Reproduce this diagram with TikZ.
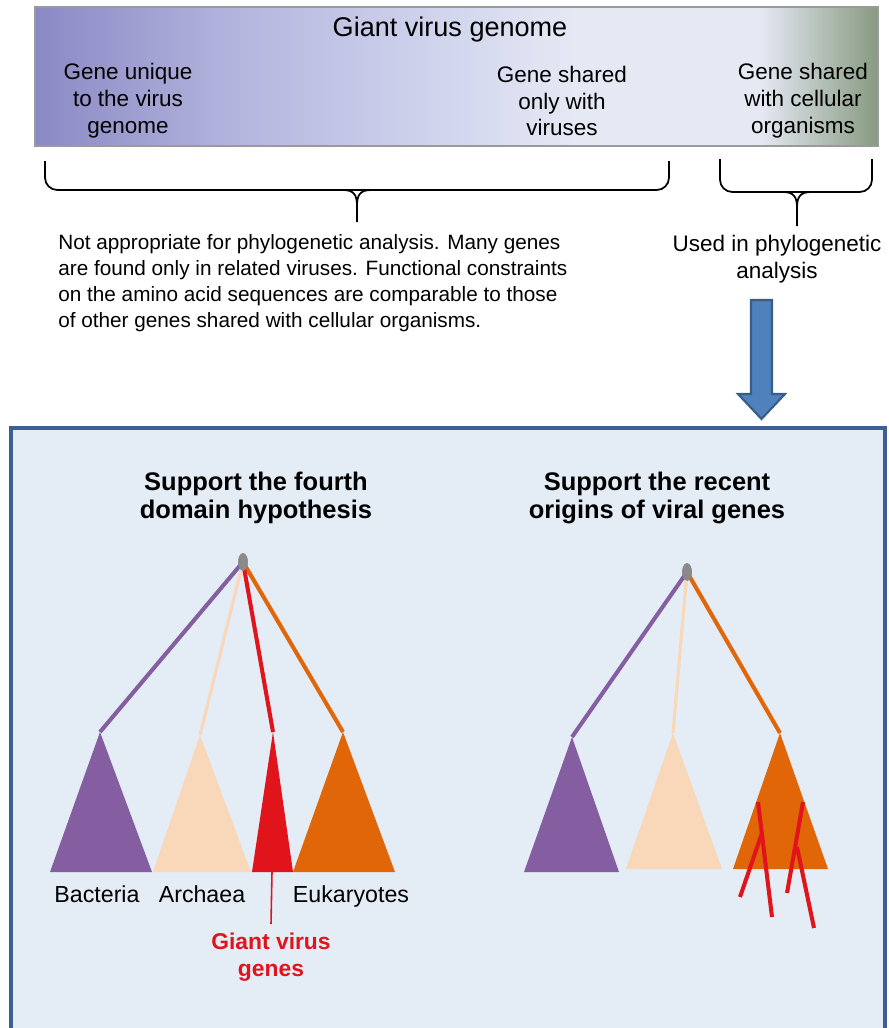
\documentclass[tikz,border=0pt]{standalone}
\usepackage{fontspec}
\setmainfont{Liberation Sans}
\usepackage{tikz}
\usetikzlibrary{positioning}
\usetikzlibrary{shapes.geometric}

\definecolor{gA}{HTML}{8B89C5}
\definecolor{gB}{HTML}{B4B5DE}
\definecolor{gC}{HTML}{D3D7EE}
\definecolor{gE}{HTML}{E5E9F4}
\definecolor{gD}{HTML}{879A80}
\definecolor{boxgray}{HTML}{9A9A9A}
\definecolor{panelfill}{HTML}{E4ECF6}
\definecolor{panelblue}{HTML}{3D5F95}
\definecolor{arrowfill}{HTML}{4F81BD}
\definecolor{arrowline}{HTML}{385D8A}
\definecolor{bact}{HTML}{845EA0}
\definecolor{arch}{HTML}{F9D8BA}
\definecolor{gvred}{HTML}{E1141B}
\definecolor{euk}{HTML}{E06608}
\definecolor{rootgray}{HTML}{8A8A8A}

\pgfdeclarehorizontalshading{genomeshade}{100bp}{color(0bp)=(gA); color(25bp)=(gA); color(37bp)=(gB); color(50bp)=(gC); color(57bp)=(gE); color(68bp)=(gE); color(75bp)=(gD); color(100bp)=(gD)}

\tikzset{
  boxlbl/.style={align=center, inner sep=0pt, font=\fontsize{12.8}{15.3}\selectfont},
  note/.style={align=left, inner sep=0pt, font=\fontsize{11.8}{14.8}\selectfont},
  head/.style={align=center, inner sep=0pt, font=\bfseries\fontsize{14.5}{16}\selectfont},
  taxon/.style={inner sep=0pt, anchor=base, font=\fontsize{13.2}{15}\selectfont},
  bracket/.style={line width=1pt, rounded corners=7},
  branch/.style={line width=2.3pt},
  rootdot/.style={ellipse, fill=rootgray, inner sep=0pt, minimum width=5.5pt, minimum height=10pt},
}

\begin{document}
\begin{tikzpicture}[x=0.02cm, y=-0.02cm]
\useasboundingbox (0,0) rectangle (889,1028);

% genome bar
\draw[draw=boxgray, line width=0.8pt, shading=genomeshade] (35,7) rectangle (878,146);
\node[inner sep=0pt, font=\fontsize{15.4}{18}\selectfont] (genome) at (450,30) {Giant virus genome};
\node[boxlbl] (unique) at (128,101) {Gene unique\\to the virus\\genome};
\node[boxlbl] (viral) at (562,101) {Gene shared\\only with\\viruses};
\node[boxlbl] (cellular) at (803,101) {Gene shared\\with cellular\\organisms};

% braces
\draw[bracket] (45,161) -- (45,190) -- (669,190) -- (669,161);
\draw[line width=1pt] (343,190) .. controls (354,190) and (357,195) .. (357,206) -- (357,222);
\draw[line width=1pt] (371,190) .. controls (360,190) and (357,195) .. (357,206);
\draw[bracket] (720,159) -- (720,192) -- (872,192) -- (872,159);
\draw[line width=1pt] (783,192) .. controls (794,192) and (797,197) .. (797,208) -- (797,226);
\draw[line width=1pt] (811,192) .. controls (800,192) and (797,197) .. (797,208);

\node[note, anchor=north west] (notused) at (58,234) {Not appropriate for phylogenetic analysis. Many genes\\are found only in related viruses. Functional constraints\\on the amino acid sequences are comparable to those\\of other genes shared with cellular organisms.};
\node[boxlbl] (used) at (777,259) {Used in phylogenetic\\analysis};

% arrow
\draw[fill=arrowfill, draw=arrowline, line width=1.2pt, line join=miter]
  (751,300) -- (772,300) -- (772,394) -- (785,394) -- (761.5,419) -- (738,394) -- (751,394) -- cycle;

% lower panel
\draw[fill=panelfill, draw=panelblue, line width=2pt] (11,428) rectangle (885,1040);
\node[head] (fourth) at (256,498) {Support the fourth\\domain hypothesis};
\node[head] (recent) at (657,498) {Support the recent\\origins of viral genes};

% left tree
\node[rootdot] (rootL) at (243,562) {};
\coordinate (bacL) at (100,732);
\coordinate (arcL) at (200,735);
\coordinate (gvL) at (273,732);
\coordinate (eukL) at (343,732);
\draw[branch, bact] (rootL.center) -- (bacL);
\draw[line width=1.8pt, arch] (rootL.center) -- (arcL);
\draw[branch, euk] (rootL.center) -- (eukL);
\draw[branch, gvred] (rootL.center) -- (gvL);
\fill[bact] (bacL) -- (152,872) -- (50,872) -- cycle;
\fill[arch] (arcL) -- (251,872) -- (153,872) -- cycle;
\fill[euk] (eukL) -- (395,872) -- (293,872) -- cycle;
\fill[gvred] (gvL) -- (293,872) -- (252,872) -- cycle;
\node[rootdot] at (rootL) {};
\coordinate (gvbase) at (272,872);
\node[taxon] (bacteria) at (97,902) {Bacteria};
\node[taxon] (archaea) at (202,902) {Archaea};
\node[taxon] (eukaryotes) at (351,902) {Eukaryotes};
\node[align=center, inner xsep=0pt, inner ysep=5pt, text=gvred, font=\bfseries\fontsize{13}{15}\selectfont, anchor=north] (gvgenes) at (271,924) {Giant virus\\genes};
\draw[gvred, line width=0.9pt] (gvbase) -- (gvgenes.north);

% right tree
\node[rootdot] (rootR) at (687,572) {};
\coordinate (bacR) at (572,737);
\coordinate (arcR) at (673,733);
\coordinate (eukR) at (780,733);
\draw[branch, bact] (rootR.center) -- (bacR);
\draw[line width=1.8pt, arch] (rootR.center) -- (arcR);
\draw[branch, euk] (rootR.center) -- (eukR);
\fill[bact] (bacR) -- (619,872) -- (524,872) -- cycle;
\fill[arch] (arcR) -- (722,869) -- (626,869) -- cycle;
\fill[euk] (eukR) -- (828,869) -- (733,869) -- cycle;
\node[rootdot] at (rootR) {};
% transferred genes
\foreach \a/\b in {{(758,802)}/{(772,917)}, {(762,833)}/{(740,897)}, {(803,802)}/{(787,893)}, {(797,847)}/{(814,928)}} {
\draw[gvred, line width=2.3pt] \a -- \b;
}
\end{tikzpicture}
\end{document}
